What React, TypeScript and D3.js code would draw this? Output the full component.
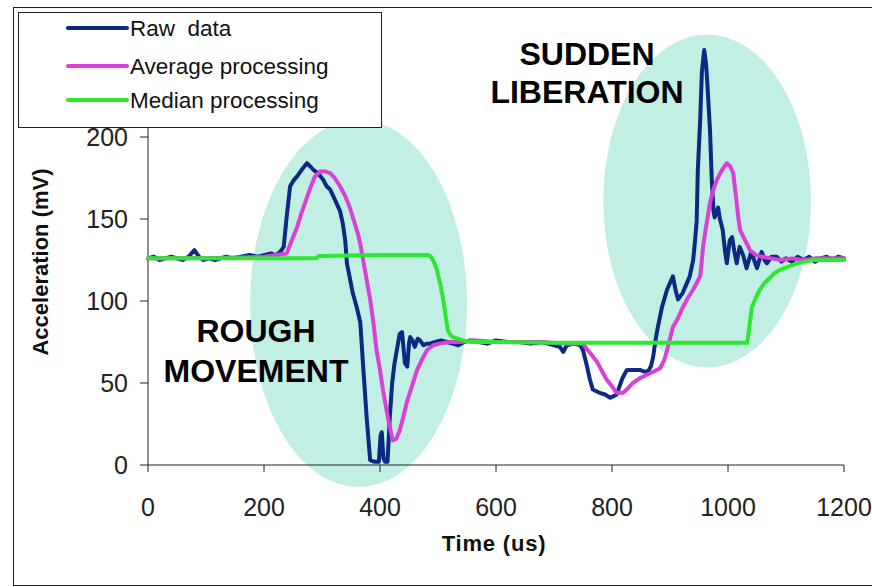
import React from "react";
import * as d3 from "d3";

const xTicks = [0, 200, 400, 600, 800, 1000, 1200];
const yTicks = [0, 50, 100, 150, 200];

const rawTime = [0,10,20,30,40,50,60,70,80,88,95,105,115,125,135,145,160,175,190,200,212,220,228,234,239,245,252,257,265,274,280,285,293,302,308,314,322,331,336,340,343,348,353,360,366,371,377,383,390,398,401,403,406,409,413,417,421,425,429,434,438,443,447,450,452,456,460,465,469,475,480,486,495,505,515,525,535,545,555,570,585,600,620,640,660,680,700,710,716,722,735,745,750,757,762,767,773,779,788,797,803,808,812,817,821,826,836,848,855,862,867,871,875,879,886,895,900,905,910,914,918,922,928,934,940,944,946,948,952,955,959,962,964,969,972,975,977,983,986,989,991,995,998,1003,1007,1011,1015,1020,1026,1032,1040,1045,1050,1058,1063,1067,1075,1084,1092,1100,1110,1120,1130,1140,1150,1160,1170,1180,1190,1200];
const rawValue = [126,127,125,126,127,126,125,127,131,127,125,126,125,126,127,126,127,128,127,128,129,128,130,133,151,170,174,176,180,184,182,180,178,174,170,168,162,155,147,137,123,114,105,96,87,60,29,3,2,2,18,20,4,2,2,30,50,62,70,80,81,62,60,74,78,76,72,77,76,73,74,74,75,76,75,74,73,75,76,75,74,76,75,75,74,75,73,72,69,73,74,73,70,60,52,46,45,44,43,41,42,43,47,52,55,58,58,58,57,57,60,66,76,84,96,107,111,115,106,101,103,105,110,115,125,140,149,180,210,240,253,245,235,204,174,155,151,157,150,146,143,130,123,137,139,130,123,133,128,120,130,125,120,130,125,123,127,127,124,126,124,127,125,127,124,126,127,125,127,126];

const avgTime = [0,100,200,239,248,257,265,274,281,288,297,305,314,322,331,340,348,355,362,367,371,377,383,389,394,400,405,411,417,422,428,434,440,446,455,464,472,481,492,503,520,540,560,600,640,680,720,750,756,765,774,783,791,800,808,819,828,836,848,860,872,883,890,895,900,905,913,922,931,940,946,952,955,957,963,969,975,981,990,998,1004,1009,1014,1018,1021,1028,1038,1048,1058,1075,1090,1110,1130,1150,1170,1200];
const avgValue = [126,126,127,129,137,145,154,163,170,176,179,179,178,175,170,164,157,149,141,133,125,113,101,86,70,58,46,34,23,15,16,21,29,38,48,58,64,70,73,74,75,75,76,75,75,75,74,74,71,67,63,57,52,48,44,44,47,50,53,55,57,59,64,70,77,84,89,96,102,107,111,115,125,133,147,160,168,174,180,184,182,178,163,150,143,138,131,128,127,126,125,126,125,126,126,126];

const medTime = [0,100,200,290,295,400,483,488,494,498,504,509,513,517,522,526,534,543,557,600,700,800,900,1000,1033,1036,1041,1048,1055,1063,1072,1080,1090,1104,1119,1133,1147,1170,1200];
const medValue = [126,126,126,126,127.5,128,128,127,123,119,110,101,91,82,79,78,77,76,75,75,74.5,74.5,74.5,74.5,74.5,82,96,102,107,111,114,117,119,121,123,124,125,125,125];

const seriesNames = ["Raw  data", "Average processing", "Median processing"];
const seriesColors = ["#0d2a82", "#d840d8", "#2ee830"];

// highlighted regions in data units: center time, center value, half-width (time), half-height (value)
const regionLabels = [["ROUGH", "MOVEMENT"], ["SUDDEN", "LIBERATION"]];
const regionCenterT = [363, 964];
const regionCenterV = [98.5, 161];
const regionHalfT = [187, 179];
const regionHalfV = [112, 101.5];

const FONT = "'Liberation Sans', Arial, Helvetica, sans-serif";

export default function App() {
  const x = d3.scaleLinear().domain([0, 1200]).range([148, 844]);
  const y = d3.scaleLinear().domain([0, 250]).range([465, 55]);
  const line = d3
    .line<[number, number]>()
    .x((d) => x(d[0]))
    .y((d) => y(d[1]))
    .curve(d3.curveLinear);

  const series = [
    rawTime.map((t, i) => [t, rawValue[i]] as [number, number]),
    avgTime.map((t, i) => [t, avgValue[i]] as [number, number]),
    medTime.map((t, i) => [t, medValue[i]] as [number, number]),
  ];

  const labelPos = [
    { cx: 256, y1: 342, y2: 382 },
    { cx: 587, y1: 65, y2: 103 },
  ];

  return (
    <svg
      width={872}
      height={587}
      style={{ position: "fixed", left: 0, top: 0, background: "#fff" }}
      fontFamily={FONT}
    >
      <rect x={0} y={0} width={872} height={587} fill="#fff" />
      {/* outer frame */}
      <rect x={13.5} y={7.5} width={880} height={578} fill="none" stroke="#222" strokeWidth={1} />

      {/* highlight ellipses */}
      {regionCenterT.map((t, i) => (
        <ellipse
          key={"e" + i}
          cx={x(t)}
          cy={y(regionCenterV[i])}
          rx={x(regionHalfT[i]) - x(0)}
          ry={y(0) - y(regionHalfV[i])}
          fill="#c2efe4"
        />
      ))}

      {/* axes */}
      <line x1={148} y1={y(0)} x2={148} y2={y(250)} stroke="#222" strokeWidth={1} />
      <line x1={x(0)} y1={y(0)} x2={x(1200)} y2={y(0)} stroke="#222" strokeWidth={1} />
      {yTicks.map((v) => (
        <g key={"y" + v}>
          <line x1={140} x2={148} y1={y(v)} y2={y(v)} stroke="#222" />
          <text x={128} y={y(v) + 9} textAnchor="end" fontSize={25} fill="#222">
            {v}
          </text>
        </g>
      ))}
      {xTicks.map((t) => (
        <g key={"x" + t}>
          <line x1={x(t)} x2={x(t)} y1={y(0)} y2={y(0) + 7} stroke="#222" />
          <text x={x(t)} y={516} textAnchor="middle" fontSize={25} fill="#222">
            {t}
          </text>
        </g>
      ))}
      <text x={494} y={551} textAnchor="middle" fontSize={22} fontWeight="bold" fill="#111" letterSpacing={0.8}>
        Time (us)
      </text>
      <text
        transform={`translate(48,262) rotate(-90)`}
        textAnchor="middle"
        fontSize={22}
        fontWeight="bold"
        fill="#111"
      >
        Acceleration (mV)
      </text>

      {/* series */}
      {series.map((s, i) => (
        <path
          key={"s" + i}
          d={line(s) || ""}
          fill="none"
          stroke={seriesColors[i]}
          strokeWidth={4}
          strokeLinejoin="round"
          strokeLinecap="round"
        />
      ))}

      {/* region labels */}
      {regionLabels.map((lines, i) => (
        <g key={"l" + i} fontSize={32} fontWeight="bold" fill="#000" textAnchor="middle">
          <text x={labelPos[i].cx} y={labelPos[i].y1}>{lines[0]}</text>
          <text x={labelPos[i].cx} y={labelPos[i].y2}>{lines[1]}</text>
        </g>
      ))}

      {/* legend */}
      <rect x={18.5} y={12.5} width={363} height={115} fill="#fff" stroke="#222" strokeWidth={1} />
      {seriesNames.map((n, i) => {
        const ly = [28, 66, 100][i];
        return (
          <g key={"lg" + i}>
            <line x1={68} x2={127} y1={ly} y2={ly} stroke={seriesColors[i]} strokeWidth={4} strokeLinecap="round" />
            <text x={130} y={ly + 8} fontSize={22.5} fill="#111" style={{ whiteSpace: "pre" }}>
              {n}
            </text>
          </g>
        );
      })}
    </svg>
  );
}
